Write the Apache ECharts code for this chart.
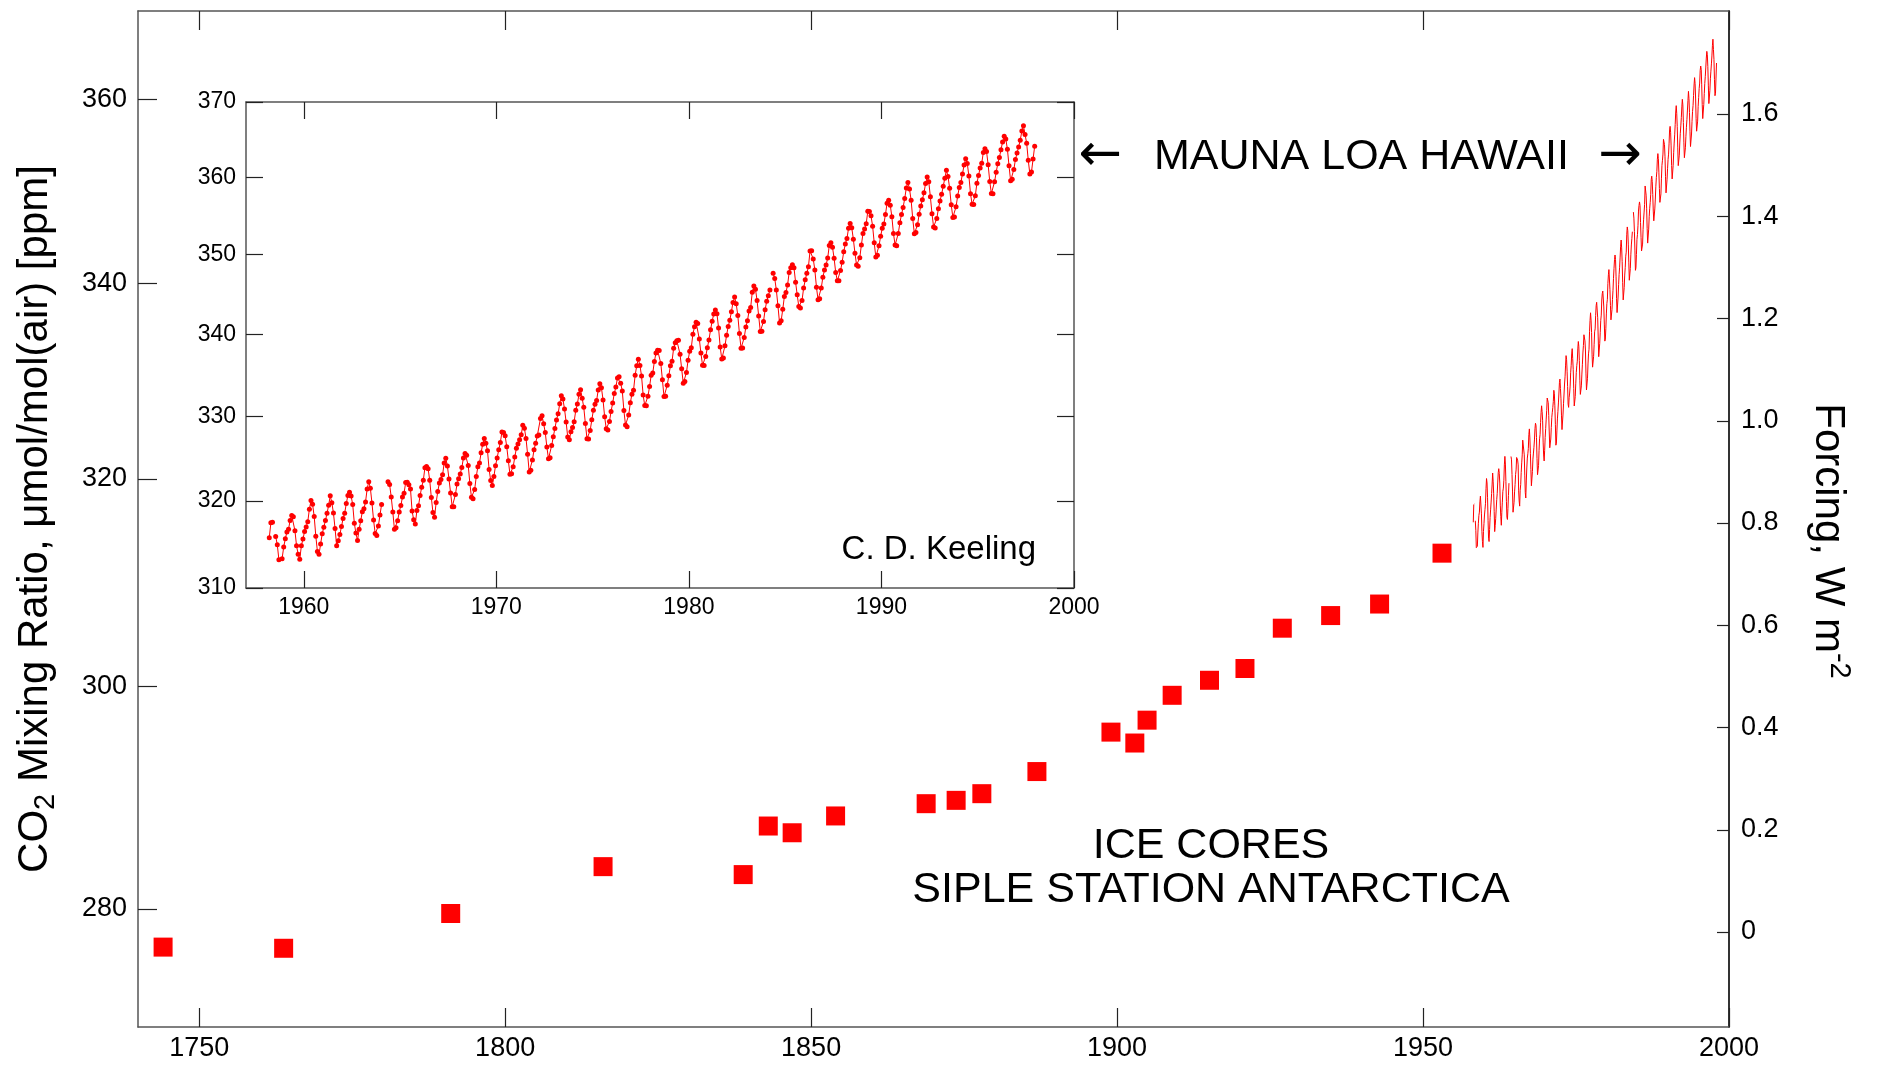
<!DOCTYPE html>
<html>
<head>
<meta charset="utf-8">
<script src="https://cdn.jsdelivr.net/npm/echarts@6/dist/echarts.min.js"></script>
<style>
  html, body { margin: 0; padding: 0; background: #fff; }
  #chart { width: 1879px; height: 1066px; }
</style>
</head>
<body>
<div id="chart"></div>
<script>
// ice cores, Siple Station
const iceYears = [1744.1, 1763.8, 1791.1, 1816.0, 1838.9, 1843.0, 1846.9, 1854.0, 1868.8, 1873.7, 1877.9,
                  1886.9, 1899.0, 1902.9, 1904.9, 1909.0, 1915.1, 1920.9, 1927.0, 1934.9, 1942.9, 1953.1];
const icePpm = [276.7, 276.6, 279.6, 283.7, 283.0, 287.3, 286.7, 288.2, 289.3, 289.6, 290.2,
                292.2, 295.8, 294.8, 296.9, 299.2, 300.6, 301.7, 305.5, 306.7, 307.8, 312.7];

// Mauna Loa monthly means, one row per year starting 1958 (null = no measurement)
const mloFirstYear = 1958;
const mloMonthly = [
  [null, null, 315.71, 317.45, 317.50, null, 315.86, 314.93, 313.20, null, 313.33, 314.67],
  [315.62, 316.38, 316.71, 317.72, 318.29, 318.15, 316.54, 314.80, 313.84, 313.26, 314.80, 315.58],
  [316.43, 316.97, 317.58, 319.02, 320.03, 319.59, 318.18, 315.91, 314.16, 313.83, 315.00, 316.19],
  [316.93, 317.70, 318.54, 319.48, 320.58, 319.77, 318.57, 316.79, 314.80, 315.38, 316.10, 317.01],
  [317.94, 318.56, 319.68, 320.63, 321.01, 320.55, 319.58, 317.40, 316.26, 315.42, 316.69, 317.69],
  [318.74, 319.08, 319.86, 321.39, 322.24, 321.47, 319.74, 317.77, 316.21, 315.99, 317.07, 318.36],
  [319.57, null, null, null, 322.23, 321.89, 320.44, 318.70, 316.70, 316.87, 317.68, 318.71],
  [319.44, 320.44, 320.89, 322.13, 322.16, 321.87, 321.39, 318.81, 317.81, 317.30, 318.87, 319.42],
  [320.62, 321.59, 322.39, 323.87, 324.01, 323.75, 322.39, 320.37, 318.64, 318.10, 319.79, 321.08],
  [322.07, 322.50, 323.04, 324.42, 325.00, 324.09, 322.55, 320.92, 319.31, 319.31, 320.72, 321.96],
  [322.57, 323.15, 323.89, 325.02, 325.57, 325.36, 324.14, 322.03, 320.41, 320.25, 321.31, 322.84],
  [324.00, 324.42, 325.64, 326.66, 327.34, 326.76, 325.88, 323.67, 322.38, 321.78, 322.85, 324.12],
  [325.03, 325.99, 326.87, 328.13, 328.07, 327.66, 326.35, 324.69, 323.10, 323.16, 323.98, 325.13],
  [326.17, 326.68, 327.18, 327.78, 328.92, 328.57, 327.34, 325.46, 323.36, 323.57, 324.80, 326.01],
  [326.77, 327.63, 327.75, 329.72, 330.07, 329.09, 328.05, 326.32, 324.93, 325.06, 326.50, 327.55],
  [328.54, 329.56, 330.30, 331.50, 332.48, 332.07, 330.87, 329.31, 327.51, 327.18, 328.16, 328.64],
  [329.35, 330.71, 331.48, 332.65, 333.20, 332.16, 331.07, 329.12, 327.32, 327.28, 328.30, 329.58],
  [330.73, 331.46, 331.90, 333.17, 333.94, 333.45, 331.97, 329.95, 328.50, 328.34, 329.37, 330.58],
  [331.59, 332.75, 333.52, 334.64, 334.77, 334.00, 333.06, 330.68, 328.95, 328.75, 330.15, 331.62],
  [332.66, 333.13, 334.95, 336.13, 336.93, 336.17, 334.88, 332.56, 331.29, 331.27, 332.41, 333.60],
  [334.95, 335.25, 336.66, 337.69, 338.03, 338.01, 336.41, 334.41, 332.37, 332.41, 333.75, 334.90],
  [336.14, 336.69, 338.27, 338.95, 339.21, 339.26, 337.54, 335.75, 333.98, 334.19, 335.31, 336.81],
  [337.90, 338.34, 340.01, 340.93, 341.48, 341.33, 339.40, 337.70, 336.19, 336.15, 337.27, 338.32],
  [339.29, 340.55, 341.61, 342.53, 343.03, 342.54, 340.78, 338.44, 336.95, 337.08, 338.58, 339.88],
  [340.96, 341.73, 342.81, 343.97, 344.63, 343.79, 342.32, 340.09, 338.28, 338.29, 339.60, 340.90],
  [341.68, 342.90, 343.33, 345.25, 346.03, 345.63, 344.19, 342.27, 340.35, 340.38, 341.59, 343.05],
  [344.10, 344.79, 345.52, null, 347.63, 346.98, 345.53, 343.55, 341.40, 341.67, 343.10, 344.70],
  [345.21, 346.16, 347.74, 348.33, 348.73, 348.33, 346.51, 344.92, 343.46, 343.26, 344.19, 345.76],
  [346.80, 347.63, 348.46, 350.46, 350.51, 349.46, 348.05, 345.88, 344.30, 344.43, 345.79, 347.13],
  [348.05, 348.68, 349.56, 351.16, 351.53, 350.93, 349.54, 347.74, 346.69, 346.70, 347.97, 349.04],
  [350.37, 351.36, 352.05, 353.38, 354.00, 353.44, 351.96, 350.19, 348.68, 348.52, 349.60, 351.24],
  [352.71, 353.27, 353.95, 355.57, 355.54, 354.99, 353.65, 351.51, 349.71, 349.91, 351.14, 352.34],
  [353.37, 353.94, 355.15, 356.61, 357.01, 356.36, 354.85, 352.69, 351.23, 351.14, 352.72, 354.09],
  [355.16, 356.07, 357.22, 358.60, 359.31, 358.46, 356.99, 354.63, 352.68, 352.82, 353.83, 355.17],
  [356.24, 357.06, 357.97, 359.17, 360.02, 359.40, 357.44, 355.26, 353.55, 353.40, 354.64, 355.91],
  [356.91, 357.77, 358.82, 359.88, 360.91, 360.09, 358.56, 356.41, 354.78, 354.83, 356.16, 357.55],
  [358.65, 359.32, 360.44, 361.62, 362.45, 361.80, 360.16, 357.86, 356.47, 356.45, 357.59, 359.23],
  [360.23, 361.22, 361.84, 363.27, 363.76, 363.39, 361.64, 359.44, 357.87, 357.86, 359.42, 360.66],
  [361.79, 362.60, 363.64, 364.66, 365.42, 365.04, 363.69, 361.52, 359.54, 359.74, 361.02, 362.32],
  [363.18, 364.00, 364.90, 366.10, 366.80, 365.64, 364.50, 362.22, 360.42, 360.70, 362.40, 364.10]
];

// axis ticks
const mainYearTicks = [1750, 1800, 1850, 1900, 1950, 2000];
const mainPpmTicks = [280, 300, 320, 340, 360];
const forcingTicks = [0, 0.2, 0.4, 0.6, 0.8, 1.0, 1.2, 1.4, 1.6];
const insetYearTicks = [1960, 1970, 1980, 1990, 2000];
const insetPpmTicks = [310, 320, 330, 340, 350, 360, 370];

// forcing = 6.3 ln(C/C0): the ppm axes are logarithmic, the forcing axis linear
const C0 = 278, K = 6.3;
const toF = c => K * Math.log(c / C0);
const fromF = f => C0 * Math.exp(f / K);

const FONT = 'Liberation Sans, Arial, Helvetica, sans-serif';
const RED = '#ff0000';

var mloData = [];
mloMonthly.forEach(function (row, i) {
    row.forEach(function (v, m) {
        mloData.push([mloFirstYear + i + (m + 0.5) / 12, v == null ? null : toF(v)]);
    });
});
var iceData = iceYears.map((y, i) => [y, toF(icePpm[i])]);

var myChart = echarts.init(document.getElementById('chart'), null, { renderer: 'canvas' });

var frame = { show: true, onZero: false, lineStyle: { color: '#555', width: 1.5 } };
var tickStyle = { color: '#222', width: 1.2 };
var yearFmt = v => String(Math.round(v));

function note(text, x, y, size, align, font) {
    return {
        type: 'text', x: x, y: y,
        style: {
            text: text, fontSize: size, fontFamily: font || FONT, fill: '#000',
            align: align, verticalAlign: 'middle', textAlign: align, textVerticalAlign: 'middle'
        }
    };
}

var option = {
    animation: false,
    backgroundColor: '#fff',
    textStyle: { fontFamily: FONT },
    grid: [
        { left: 138, top: 11, width: 1591, height: 1016 },
        { left: 246, top: 102, width: 828, height: 486 }
    ],
    xAxis: [
        {
            gridIndex: 0, type: 'value', position: 'bottom', min: 1740, max: 2000,
            axisLine: frame,
            axisTick: { inside: true, length: 19, customValues: mainYearTicks, lineStyle: tickStyle },
            axisLabel: { customValues: mainYearTicks, formatter: yearFmt, fontSize: 27, color: '#000', margin: 8, fontFamily: FONT },
            splitLine: { show: false }
        },
        {
            gridIndex: 0, type: 'value', position: 'top', min: 1740, max: 2000,
            axisLine: frame,
            axisTick: { inside: true, length: 19, customValues: mainYearTicks, lineStyle: tickStyle },
            axisLabel: { show: false },
            splitLine: { show: false }
        },
        {
            gridIndex: 1, type: 'value', position: 'bottom', min: 1957, max: 2000,
            axisLine: frame,
            axisTick: { inside: true, length: 17, customValues: insetYearTicks, lineStyle: tickStyle },
            axisLabel: { customValues: insetYearTicks, formatter: yearFmt, fontSize: 23, color: '#000', margin: 8, fontFamily: FONT },
            splitLine: { show: false }
        },
        {
            gridIndex: 1, type: 'value', position: 'top', min: 1957, max: 2000,
            axisLine: frame,
            axisTick: { inside: true, length: 17, customValues: insetYearTicks, lineStyle: tickStyle },
            axisLabel: { show: false },
            splitLine: { show: false }
        }
    ],
    yAxis: [
        {
            gridIndex: 0, type: 'value', position: 'left', min: -0.1858, max: 1.8015,
            axisLine: frame,
            axisTick: { inside: true, length: 19, customValues: mainPpmTicks.map(toF), lineStyle: tickStyle },
            axisLabel: {
                customValues: mainPpmTicks.map(toF), fontSize: 27, color: '#000', margin: 11, fontFamily: FONT,
                formatter: v => String(Math.round(fromF(v)))
            },
            splitLine: { show: false },
            name: '{a|CO}{s|2}{a| Mixing Ratio, μmol/mol(air) [ppm]}',
            nameLocation: 'middle',
            nameGap: 78,
            nameTextStyle: {
                rich: {
                    a: { fontSize: 42, lineHeight: 50, fontFamily: FONT, color: '#000' },
                    s: { fontSize: 29, lineHeight: 29, verticalAlign: 'bottom', fontFamily: FONT, color: '#000' }
                }
            }
        },
        {
            gridIndex: 0, type: 'value', position: 'right', min: -0.1858, max: 1.8015,
            axisLine: { show: true, onZero: false, lineStyle: { color: '#333', width: 2 } },
            axisTick: { inside: true, length: 12, customValues: forcingTicks, lineStyle: tickStyle },
            axisLabel: {
                customValues: forcingTicks, fontSize: 27, color: '#000', margin: 12, fontFamily: FONT,
                formatter: v => (v === 0 ? '0' : v.toFixed(1))
            },
            splitLine: { show: false },
            name: '{a|Forcing, W m}{s|-2}',
            nameLocation: 'middle',
            nameRotate: -90,
            nameGap: 74,
            nameTextStyle: {
                padding: [0, 0, 0, 44],
                rich: {
                    a: { fontSize: 42, lineHeight: 50, fontFamily: FONT, color: '#000' },
                    s: { fontSize: 29, lineHeight: 29, verticalAlign: 'top', fontFamily: FONT, color: '#000' }
                }
            }
        },
        {
            gridIndex: 1, type: 'value', position: 'left', min: toF(310), max: toF(370),
            axisLine: frame,
            axisTick: { inside: true, length: 17, customValues: insetPpmTicks.map(toF), lineStyle: tickStyle },
            axisLabel: {
                customValues: insetPpmTicks.map(toF), fontSize: 23, color: '#000', margin: 10, fontFamily: FONT,
                formatter: v => String(Math.round(fromF(v)))
            },
            splitLine: { show: false }
        },
        {
            gridIndex: 1, type: 'value', position: 'right', min: toF(310), max: toF(370),
            axisLine: frame,
            axisTick: { inside: true, length: 17, customValues: insetPpmTicks.map(toF), lineStyle: tickStyle },
            axisLabel: { show: false },
            splitLine: { show: false }
        }
    ],
    series: [
        {
            name: 'Mauna Loa', type: 'line', xAxisIndex: 0, yAxisIndex: 0,
            data: mloData, showSymbol: false, connectNulls: false,
            lineStyle: { color: RED, width: 1 }, z: 3
        },
        {
            name: 'Siple Station', type: 'scatter', xAxisIndex: 0, yAxisIndex: 0,
            data: iceData, symbol: 'rect', symbolSize: 19,
            itemStyle: { color: RED, opacity: 1 }, z: 3
        },
        {
            name: 'Mauna Loa inset', type: 'line', xAxisIndex: 2, yAxisIndex: 2,
            data: mloData, symbol: 'circle', symbolSize: 5, showSymbol: true, connectNulls: false,
            itemStyle: { color: RED, opacity: 1 }, lineStyle: { color: RED, width: 1 }, z: 4
        }
    ],
    graphic: [
        note('←', 1100, 156, 52, 'center', 'DejaVu Sans'),
        note('MAUNA LOA HAWAII', 1154, 157, 43, 'left'),
        note('→', 1620, 156, 52, 'center', 'DejaVu Sans'),
        note('ICE CORES', 1211, 846, 43, 'center'),
        note('SIPLE STATION ANTARCTICA', 1211, 890, 43, 'center'),
        note('C. D. Keeling', 1036, 550, 33, 'right')
    ]
};

myChart.setOption(option);
</script>
</body>
</html>
